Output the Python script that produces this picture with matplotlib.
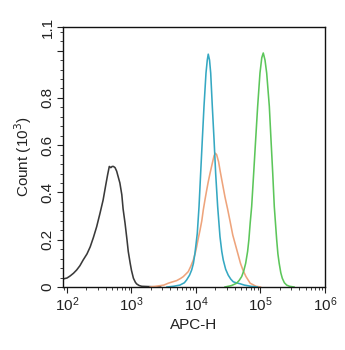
import numpy as np
import matplotlib
matplotlib.use("Agg")
import matplotlib.pyplot as plt
from matplotlib.ticker import FixedLocator, LogLocator, NullFormatter

plt.rcParams['font.family'] = ['Liberation Sans', 'DejaVu Sans']

# ---------------------------------------------------------------------------
# Histogram traces (x as log10 of APC-H, y in 10^3 counts)
# ---------------------------------------------------------------------------
black_log10 = [1.94, 2.0, 2.05, 2.10, 2.15, 2.20, 2.25, 2.31, 2.36, 2.41, 2.46,
               2.51, 2.56, 2.60, 2.63, 2.656, 2.68, 2.70, 2.72, 2.745, 2.77,
               2.80, 2.82, 2.85, 2.87, 2.90, 2.93, 2.95, 2.98, 3.00, 3.03,
               3.06, 3.08, 3.12, 3.16, 3.25, 3.35, 3.45]
black_count = [0.034, 0.038, 0.047, 0.058, 0.072, 0.09, 0.114, 0.14, 0.17,
               0.21, 0.255, 0.31, 0.368, 0.43, 0.475, 0.51, 0.505, 0.51, 0.51,
               0.505, 0.49, 0.46, 0.44, 0.39, 0.33, 0.27, 0.2, 0.15, 0.10,
               0.07, 0.037, 0.02, 0.013, 0.006, 0.003, 0.002, 0.001, 0.0]

orange_log10 = [3.29, 3.40, 3.50, 3.57, 3.64, 3.70, 3.76, 3.803, 3.84, 3.88,
                3.92, 3.958, 3.99, 4.01, 4.035, 4.062, 4.09, 4.113, 4.14,
                4.166, 4.19, 4.217, 4.25, 4.28, 4.30, 4.32, 4.35, 4.375, 4.40,
                4.45, 4.49, 4.527, 4.57, 4.62, 4.66, 4.69, 4.73, 4.775, 4.84,
                4.93, 5.0]
orange_count = [0.0, 0.004, 0.008, 0.016, 0.022, 0.027, 0.036, 0.044, 0.054,
                0.065, 0.088, 0.114, 0.145, 0.17, 0.205, 0.24, 0.28, 0.326,
                0.37, 0.41, 0.445, 0.48, 0.52, 0.555, 0.566, 0.56, 0.53, 0.49,
                0.453, 0.38, 0.33, 0.28, 0.22, 0.17, 0.13, 0.10, 0.07, 0.044,
                0.016, 0.003, 0.0]

cyan_log10 = [3.55, 3.65, 3.75, 3.82, 3.855, 3.90, 3.933, 3.96, 3.984, 4.00,
              4.02, 4.047, 4.072, 4.098, 4.124, 4.155, 4.175, 4.19, 4.21,
              4.228, 4.253, 4.28, 4.305, 4.336, 4.372, 4.40, 4.423, 4.46,
              4.50, 4.54, 4.578, 4.62, 4.68, 4.75, 4.85, 4.95]
cyan_count = [0.0, 0.003, 0.008, 0.018, 0.03, 0.05, 0.072, 0.10, 0.143, 0.18,
              0.227, 0.34, 0.48, 0.623, 0.764, 0.905, 0.96, 0.985, 0.96,
              0.905, 0.764, 0.623, 0.48, 0.34, 0.213, 0.15, 0.114, 0.075,
              0.05, 0.033, 0.022, 0.018, 0.014, 0.008, 0.003, 0.0]

green_log10 = [4.45, 4.55, 4.63, 4.67, 4.708, 4.74, 4.77, 4.80, 4.82, 4.84,
               4.863, 4.894, 4.925, 4.956, 4.992, 5.02, 5.043, 5.07, 5.096,
               5.137, 5.163, 5.19, 5.214, 5.235, 5.251, 5.27, 5.29, 5.315,
               5.338, 5.37, 5.406, 5.45, 5.52]
green_count = [0.0, 0.006, 0.016, 0.028, 0.044, 0.068, 0.10, 0.15, 0.2, 0.27,
               0.34, 0.48, 0.623, 0.764, 0.905, 0.97, 0.99, 0.96, 0.905,
               0.764, 0.623, 0.48, 0.34, 0.26, 0.2, 0.14, 0.10, 0.06, 0.037,
               0.018, 0.008, 0.003, 0.0]

y_ticks = [0, 0.2, 0.4, 0.6, 0.8, 1.0, 1.1]
y_tick_labels = ['0', '0.2', '0.4', '0.6', '0.8', '', '1.1']

# ---------------------------------------------------------------------------
# Figure
# ---------------------------------------------------------------------------
fig = plt.figure(figsize=(3.45, 3.5), dpi=100)
fig.patch.set_facecolor('white')
ax = fig.add_axes([0.1826, 0.18, 0.7594, 0.7429])

traces = [
    (black_log10, black_count, '#3a3a3a'),
    (orange_log10, orange_count, '#eea47c'),
    (cyan_log10, cyan_count, '#35a8c2'),
    (green_log10, green_count, '#5cc65a'),
]
for lx, cnt, col in traces:
    ax.plot(10 ** np.asarray(lx), cnt, color=col, linewidth=1.15)

ax.set_xscale('log')
ax.set_xlim(10 ** 1.938, 1e6)
ax.set_ylim(0, 1.1)

ax.xaxis.set_major_locator(LogLocator(base=10, numticks=10))
ax.xaxis.set_minor_locator(LogLocator(base=10, subs=np.arange(2, 10), numticks=50))
ax.xaxis.set_minor_formatter(NullFormatter())

ax.yaxis.set_major_locator(FixedLocator(y_ticks))
ax.set_yticklabels(y_tick_labels, rotation=90, va='center')
ax.yaxis.set_minor_locator(FixedLocator(np.arange(0.04, 1.1, 0.04)))

ax.tick_params(which='major', direction='out', length=4, width=0.8,
               labelsize=11, colors='#222222', pad=2)
ax.tick_params(which='minor', direction='out', length=2, width=0.6,
               colors='#222222')

for spine in ax.spines.values():
    spine.set_linewidth(1.0)
    spine.set_color('#111111')

ax.set_xlabel('APC-H', fontsize=11, color='#222222', labelpad=3)
ax.set_ylabel('Count (10$^3$)', fontsize=11, color='#222222', labelpad=5)

fig.savefig('out.png', dpi=100, facecolor='white')
